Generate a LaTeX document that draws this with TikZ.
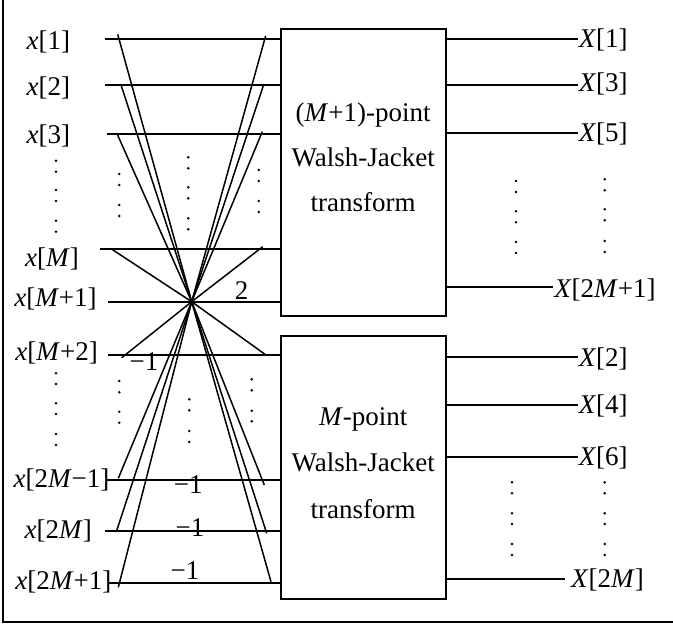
\documentclass[tikz,border=0pt]{standalone}
\usepackage{fontspec}
\setmainfont{Liberation Serif}
\begin{document}
\begin{tikzpicture}[x=1pt,y=-1pt,
  lbl/.style={font=\fontsize{27}{31}\selectfont, inner sep=0pt, anchor=base},
  wire/.style={line width=1.8pt},
  diag/.style={line width=1.5pt},
  frame/.style={line width=2.6pt},
  blk/.style={draw, line width=2.2pt, minimum width=165pt, inner sep=0pt},
  dotmark/.style={fill=black}
]
\useasboundingbox (0,0) rectangle (673,627);
\draw[frame] (3,0) -- (3,622) -- (673,622);

% blocks
\node[blk, minimum height=286.7pt] (B1) at (363.2,172.65) {};
\node[blk, minimum height=263.3pt] (B2) at (363.2,467.65) {};

% block texts
\node[lbl] (t1a) at (363.2,121.7) {(\textit{M}+1)-point};
\node[lbl] (t1b) at (363.2,166.7) {Walsh-Jacket};
\node[lbl] (t1c) at (363.2,211.7) {transform};
\node[lbl] (t2a) at (363.2,425) {\textit{M}-point};
\node[lbl] (t2b) at (363.2,471.7) {Walsh-Jacket};
\node[lbl] (t2c) at (363.2,518.3) {transform};

% input labels
\node[lbl] (in1) at (48.3,49) {\textit{x}[1]};
\node[lbl] (in2) at (48.3,95) {\textit{x}[2]};
\node[lbl] (in3) at (48.3,143.3) {\textit{x}[3]};
\node[lbl] (inM) at (52,266.7) {\textit{x}[\textit{M}]};
\node[lbl] (inM1) at (55.5,306.7) {\textit{x}[\textit{M}+1]};
\node[lbl] (inM2) at (56.7,360) {\textit{x}[\textit{M}+2]};
\node[lbl] (in2Mm) at (61.5,487.7) {\textit{x}[2\textit{M}−1]};
\node[lbl] (in2M) at (58.3,538.3) {\textit{x}[2\textit{M}]};
\node[lbl] (in2Mp) at (63.3,589.3) {\textit{x}[2\textit{M}+1]};

% input wires
\coordinate (p1) at (105,39);
\coordinate (p2) at (105,85);
\coordinate (p3) at (107,133.7);
\coordinate (p4) at (100,249.3);
\coordinate (p5) at (108,301.7);
\coordinate (p6) at (108,355);
\coordinate (p7) at (107,480);
\coordinate (p8) at (105,531);
\coordinate (p9) at (108,582.7);
\foreach \i in {1,...,5} \draw[wire] (p\i) -- (p\i -| B1.west);
\foreach \i in {6,...,9} \draw[wire] (p\i) -- (p\i -| B2.west);

% butterfly
\coordinate (C) at (191.7,301.7);
\coordinate (d1) at (117.7,34.3);
\coordinate (d2) at (120.7,84);
\coordinate (d3) at (117.3,134.3);
\coordinate (d4) at (111,248.7);
\coordinate (d5) at (265.7,35.7);
\coordinate (d6) at (263.3,85.7);
\coordinate (d7) at (262.3,131.7);
\coordinate (d8) at (262.7,246.7);
\coordinate (d9) at (121.7,357.7);
\coordinate (d10) at (118.3,478.3);
\coordinate (d11) at (116.7,530.7);
\coordinate (d12) at (118.3,587.3);
\coordinate (d13) at (265,354.3);
\coordinate (d14) at (264.3,485);
\coordinate (d15) at (266.7,533.3);
\coordinate (d16) at (271,581.7);
\foreach \i in {1,...,16} \draw[diag] (C) -- (d\i);

% weights
\node[lbl] (w2) at (241.7,299) {2};
\node[lbl] (wa) at (144,370) {−1};
\node[lbl] (wb) at (188.3,493.3) {−1};
\node[lbl] (wc) at (190,536) {−1};
\node[lbl] (wd) at (185,579.3) {−1};

% outputs
\coordinate (q1) at (578,39);
\coordinate (q2) at (578,85);
\coordinate (q3) at (578,133);
\coordinate (q4) at (553,287);
\coordinate (q5) at (578,356.7);
\coordinate (q6) at (578,405);
\coordinate (q7) at (578,456.7);
\coordinate (q8) at (565,579);
\foreach \i in {1,...,4} \draw[wire] (B1.east |- q\i) -- (q\i);
\foreach \i in {5,...,8} \draw[wire] (B2.east |- q\i) -- (q\i);

\node[lbl] (X1) at (603.3,47.5) {\textit{X}[1]};
\node[lbl] (X3) at (603.3,91.8) {\textit{X}[3]};
\node[lbl] (X5) at (603.3,141.2) {\textit{X}[5]};
\node[lbl] (X2M1) at (605,297) {\textit{X}[2\textit{M}+1]};
\node[lbl] (X2) at (603.3,366) {\textit{X}[2]};
\node[lbl] (X4) at (603.3,413.5) {\textit{X}[4]};
\node[lbl] (X6) at (603.3,465.2) {\textit{X}[6]};
\node[lbl] (X2M) at (607.5,587.3) {\textit{X}[2\textit{M}]};

% dots
\foreach \x/\y in {
 56/160.7, 56/171.7, 56/190, 56/201, 56/220.7, 56/231.7,
 119.3/174, 119.3/185, 119.3/205, 119.3/216,
 188.3/157.3, 188.3/168.3, 188.3/187.3, 188.3/198.3, 188.3/218.3, 188.3/229.3,
 258.7/170, 258.7/181, 258.7/201, 258.7/212,
 56/373.3, 56/384, 56/403.3, 56/414, 56/434, 56/445,
 119.3/381, 119.3/392.3, 119.3/411.7, 119.3/422.7,
 189.3/399.3, 189.3/410.3, 189.3/431, 189.3/442,
 251.7/379.3, 251.7/390.3, 251.7/410.7, 251.7/421.3,
 516/181, 516/192, 516/211.3, 516/222.3, 516/242, 516/253,
 604.7/179.3, 604.7/190.3, 604.7/209.3, 604.7/220.3, 604.7/241, 604.7/252,
 512/482.3, 512/493.3, 512/513.3, 512/524, 512/544, 512/555,
 604.7/482.3, 604.7/493.3, 604.7/513.3, 604.7/524, 604.7/544, 604.7/555}
  \fill[dotmark] (\x,\y) circle[radius=1.4pt];
\end{tikzpicture}
\end{document}
